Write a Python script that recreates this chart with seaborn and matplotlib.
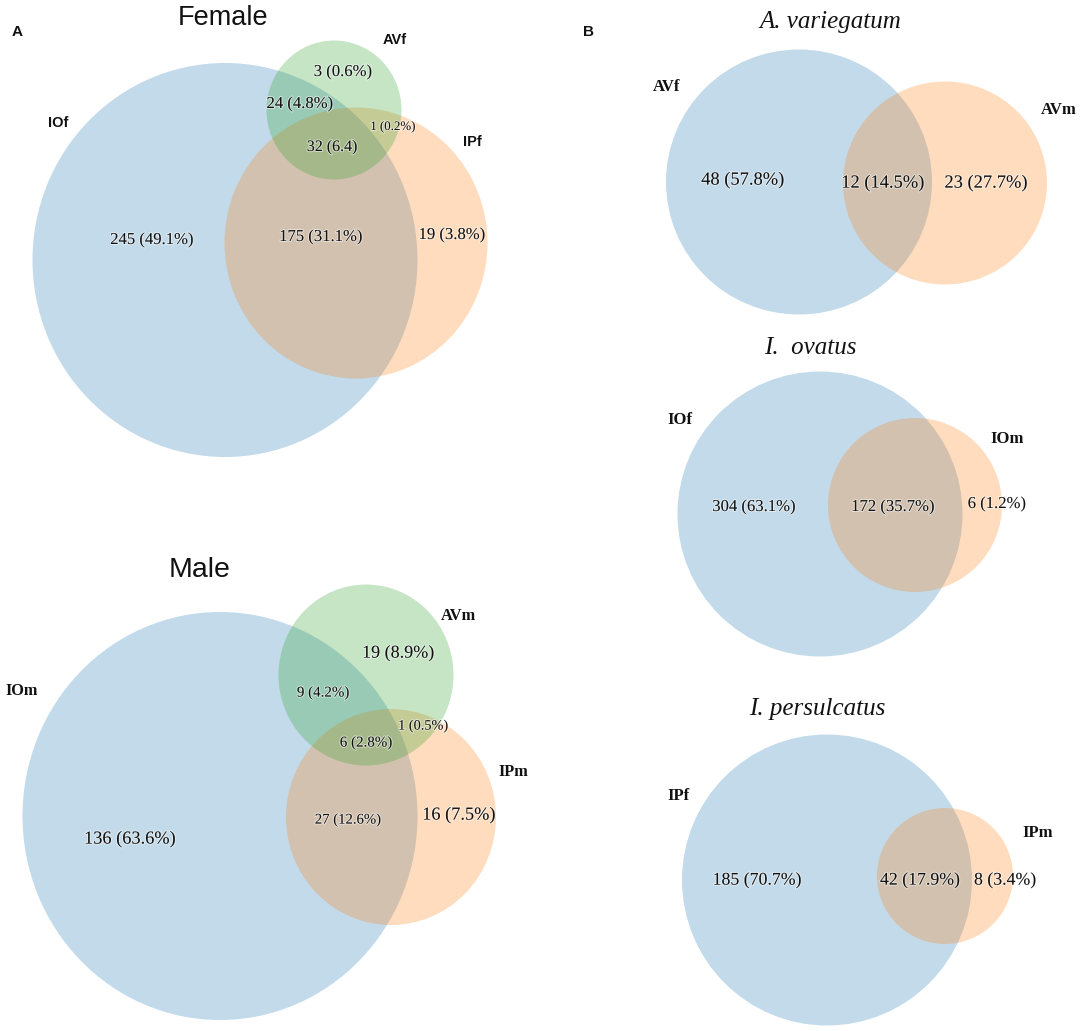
import seaborn as sns
import matplotlib.pyplot as plt
from matplotlib.patches import Ellipse
import matplotlib.patheffects as pe

# ---- data ----
female_sets = ["IOf", "AVf", "IPf"]
female_counts = [3, 24, 1, 32, 245, 175, 19]
female_pcts = ["0.6%", "4.8%", "0.2%", "6.4", "49.1%", "31.1%", "3.8%"]

male_sets = ["IOm", "AVm", "IPm"]
male_counts = [19, 9, 1, 6, 136, 27, 16]
male_pcts = ["8.9%", "4.2%", "0.5%", "2.8%", "63.6%", "12.6%", "7.5%"]

species_titles = ["A. variegatum", "I.  ovatus", "I. persulcatus"]
species_sets = [["AVf", "AVm"], ["IOf", "IOm"], ["IPf", "IPm"]]
species_counts = [[48, 12, 23], [304, 172, 6], [185, 42, 8]]
species_pcts = [["57.8%", "14.5%", "27.7%"], ["63.1%", "35.7%", "1.2%"], ["70.7%", "17.9%", "3.4%"]]

# ---- layout (pixels, y down) ----
female_shapes = [(225, 260, 385, 394), (334, 110, 135, 139), (356, 243, 263, 271)]
female_label_xy = [(58, 123), (395, 40), (472, 142)]
female_num_xy = [(343, 72), (300, 104), (393, 127), (332, 147), (152, 240), (321, 237), (452, 235)]
female_num_fs = [12, 12, 9.3, 11.5, 12, 12, 12]

male_shapes = [(220, 816, 395, 408), (366, 675, 175, 181), (391, 817, 210, 216)]
male_label_xy = [(22, 691), (458, 616), (513, 772)]
male_num_xy = [(398, 653), (323, 693), (423, 726), (366, 743), (130, 839), (348, 820), (459, 815)]
male_num_fs = [13, 10.8, 10.3, 10.8, 13.2, 10.6, 13.2]

species_title_xy = [(830, 22), (810, 348), (817, 709)]
species_shapes = [[(799, 182, 266, 265), (945, 183, 204, 203)],
                  [(820, 514, 285, 285), (915, 505, 174, 174)],
                  [(827, 880, 290, 291), (945, 876, 136, 136)]]
species_label_xy = [[(667, 87), (1059, 110)], [(680, 420), (1007, 439)], [(678, 796), (1038, 833)]]
species_num_xy = [[(743, 180), (883, 183), (986, 183)],
                  [(754, 507), (893, 507), (997, 504)],
                  [(757, 880), (920, 880), (1005, 880)]]
species_num_fs = [13.3, 12, 12.8]

sns.set_theme(style="white")
pal = sns.color_palette("tab10")
blue, orange, green = pal[0], pal[1], pal[2]
ALPHA = 0.27

SERIF = "Liberation Serif"
SANS = "Liberation Sans"
halo = [pe.withStroke(linewidth=1.5, foreground="white", alpha=0.5)]

fig = plt.figure(figsize=(10.84, 10.31), dpi=100)
ax = fig.add_axes([0, 0, 1, 1])
ax.set_xlim(0, 1084)
ax.set_ylim(1031, 0)
ax.axis("off")


def draw_sets(shapes, colors):
    for (cx, cy, w, h), c in zip(shapes, colors):
        ax.add_patch(Ellipse((cx, cy), w, h, facecolor=c, edgecolor="none", alpha=ALPHA))


def put(xy, s, size, family, weight="normal", style="normal", effects=None):
    ax.text(xy[0], xy[1], s, ha="center", va="center", fontsize=size, family=family,
            fontweight=weight, fontstyle=style, color="#111111", path_effects=effects)


# panel A - female (order: IOf, IPf, AVf)
draw_sets([female_shapes[0], female_shapes[2], female_shapes[1]], [blue, orange, green])
for name, xy in zip(female_sets, female_label_xy):
    put(xy, name, 10.5, SANS, weight="bold")
for n, p, xy, fs in zip(female_counts, female_pcts, female_num_xy, female_num_fs):
    put(xy, f"{n} ({p})", fs, SERIF, effects=halo)
put((223, 18), "Female", 19.5, SANS)
put((17, 32), "A", 11, SANS, weight="bold")

# panel A - male
draw_sets([male_shapes[0], male_shapes[2], male_shapes[1]], [blue, orange, green])
for name, xy in zip(male_sets, male_label_xy):
    put(xy, name, 11.8, SERIF, weight="bold")
for n, p, xy, fs in zip(male_counts, male_pcts, male_num_xy, male_num_fs):
    put(xy, f"{n} ({p})", fs, SERIF, effects=halo)
put((200, 570), "Male", 20.5, SANS)

# panel B - per species
put((588, 32), "B", 11, SANS, weight="bold")
for i, title in enumerate(species_titles):
    draw_sets(species_shapes[i], [blue, orange])
    put(species_title_xy[i], title, 18, SERIF, style="italic")
    for name, xy in zip(species_sets[i], species_label_xy[i]):
        put(xy, name, 12, SERIF, weight="bold")
    for n, p, xy in zip(species_counts[i], species_pcts[i], species_num_xy[i]):
        put(xy, f"{n} ({p})", species_num_fs[i], SERIF, effects=halo)

fig.savefig("out.png", dpi=100)
